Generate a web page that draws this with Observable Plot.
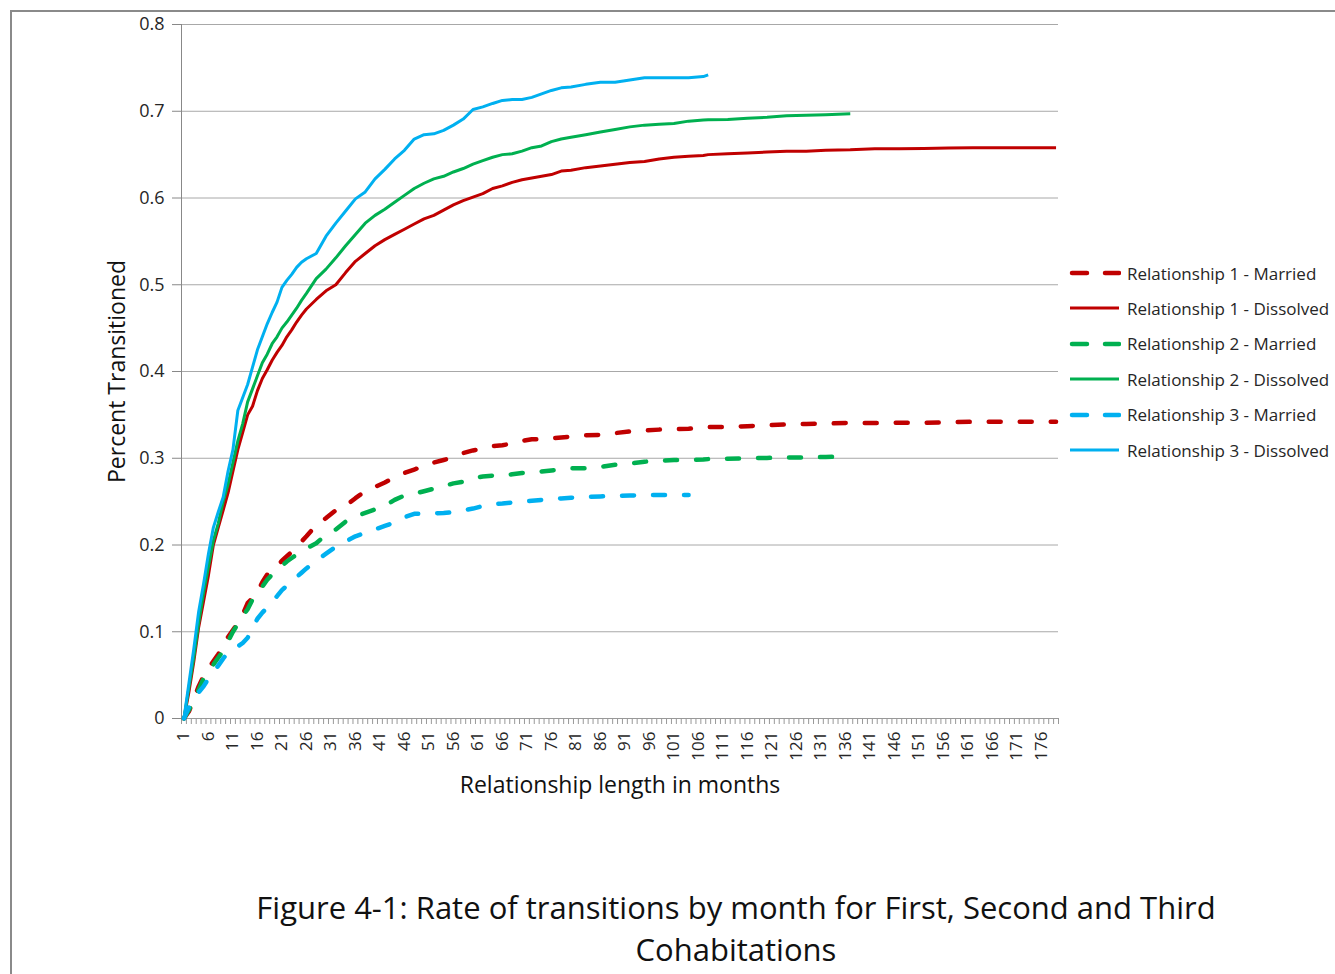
<!DOCTYPE html>
<html>
<head>
<meta charset="utf-8">
<script src="https://cdn.jsdelivr.net/npm/d3@7"></script>
<script src="https://cdn.jsdelivr.net/npm/@observablehq/plot@0.6"></script>
<style>
  body { margin: 0; background: #fff; font-family: "Open Sans", sans-serif; }
  #wrap { position: relative; width: 1335px; height: 974px; overflow: hidden; background: #fff; }
  #frame { position: absolute; left: 10px; top: 10px; width: 1400px; height: 1000px;
           border-top: 2px solid #8a8a8a; border-left: 2px solid #8a8a8a; }
  #chart { position: absolute; left: 0; top: 0; }
  #legend { position: absolute; left: 1068px; top: 0; }
  .item { position: absolute; left: 0; height: 24px; display: flex; align-items: center;
          white-space: nowrap; font-size: 17px; color: #262626; }
  .item svg { margin-right: 6px; }
  #caption { position: absolute; top: 886px; left: 136px; width: 1200px; text-align: center;
             font-family: "Liberation Sans Narrow", "Open Sans", sans-serif; font-size: 31px;
             line-height: 42px; color: #111; }
</style>
</head>
<body>
<div id="wrap">
  <div id="frame"></div>
  <div id="chart"></div>
  <div id="legend"></div>
  <div id="caption"></div>
</div>
<script>
// ---- data ----
const months = [1,2,3,4,5,6,7,8,9,10,11,12,13,14,15,16,17,18,19,20,21,22,23,24,25,26,
  28,30,32,34,36,38,40,42,44,46,48,50,52,54,56,58,60,62,64,66,68,70,72,74,76,78,80,
  83,86,89,92,95,98,101,104,107,108,112,116,120,124,128,132,137,142,147,152,157,162,167,172,179];

const r1Married = [0,0.008,0.022,0.037,0.049,0.058,0.066,0.074,0.083,0.094,0.102,0.11,0.12,0.133,0.139,0.146,0.157,0.166,0.171,0.175,0.182,0.187,0.192,0.197,0.204,0.21,
  0.223,0.231,0.24,0.245,0.254,0.262,0.267,0.272,0.278,0.283,0.287,0.291,0.295,0.298,0.301,0.306,0.309,0.311,0.314,0.315,0.317,0.32,0.322,0.322,0.323,0.324,0.325,
  0.3265,0.327,0.329,0.331,0.332,0.333,0.3335,0.334,0.3355,0.336,0.336,0.337,0.338,0.339,0.3395,0.340,0.3407,0.3407,0.341,0.341,0.3415,0.342,0.342,0.342,0.342];

const r1Dissolved = [0,0.03,0.065,0.105,0.135,0.165,0.2,0.22,0.24,0.26,0.285,0.31,0.33,0.35,0.36,0.378,0.392,0.402,0.413,0.422,0.43,0.44,0.448,0.457,0.465,0.472,
  0.483,0.493,0.5,0.514,0.527,0.536,0.545,0.552,0.558,0.564,0.57,0.576,0.58,0.586,0.592,0.597,0.601,0.605,0.611,0.614,0.618,0.621,0.623,0.625,0.627,0.631,0.632,
  0.635,0.637,0.639,0.641,0.642,0.645,0.647,0.648,0.649,0.65,0.651,0.652,0.653,0.654,0.654,0.655,0.6555,0.6567,0.6567,0.657,0.6575,0.658,0.658,0.658,0.658];

const r2Married = [0,0.01,0.02,0.033,0.046,0.054,0.062,0.07,0.078,0.089,0.1,0.109,0.118,0.126,0.137,0.144,0.152,0.16,0.166,0.171,0.176,0.181,0.185,0.189,0.193,0.196,
  0.202,0.212,0.218,0.227,0.233,0.237,0.241,0.245,0.252,0.257,0.259,0.262,0.265,0.268,0.271,0.273,0.277,0.279,0.28,0.28,0.2815,0.283,0.284,0.2847,0.286,0.287,0.2885,
  0.2885,0.29,0.2925,0.294,0.296,0.297,0.298,0.298,0.2985,0.299,0.2995,0.3,0.3004,0.3008,0.301,0.3015,0.302,
  null,null,null,null,null,null,null,null];

const r2Dissolved = [0,0.035,0.07,0.11,0.145,0.175,0.205,0.225,0.25,0.27,0.295,0.32,0.34,0.365,0.38,0.395,0.41,0.42,0.432,0.44,0.45,0.457,0.465,0.473,0.482,0.49,
  0.507,0.518,0.531,0.545,0.558,0.571,0.58,0.587,0.595,0.603,0.611,0.617,0.622,0.625,0.63,0.634,0.639,0.643,0.647,0.65,0.651,0.654,0.658,0.66,0.665,0.668,0.67,
  0.673,0.676,0.679,0.682,0.684,0.685,0.686,0.6886,0.69,0.6902,0.6905,0.692,0.693,0.6947,0.6955,0.696,0.697,
  null,null,null,null,null,null,null,null];

const r3Married = [0,0.013,0.022,0.03,0.037,0.046,0.053,0.061,0.069,0.076,0.08,0.083,0.087,0.093,0.104,0.115,0.122,0.128,0.135,0.141,0.148,0.153,0.158,0.163,0.168,0.173,
  0.182,0.19,0.198,0.204,0.21,0.214,0.218,0.222,0.226,0.232,0.236,0.236,0.2365,0.237,0.2378,0.24,0.242,0.245,0.247,0.2478,0.249,0.2498,0.251,0.252,0.253,0.2537,0.2545,
  0.2552,0.256,0.2566,0.257,0.2575,0.2575,0.2575,0.2575,null,null,
  null,null,null,null,null,null,null,null,null,null,null,null,null,null,null];

const r3Dissolved = [0,0.04,0.08,0.123,0.155,0.19,0.22,0.238,0.255,0.285,0.31,0.355,0.37,0.385,0.405,0.425,0.44,0.455,0.468,0.48,0.497,0.505,0.512,0.52,0.526,0.53,
  0.536,0.556,0.571,0.585,0.599,0.607,0.622,0.633,0.645,0.655,0.668,0.673,0.674,0.678,0.684,0.691,0.702,0.705,0.709,0.7125,0.7135,0.7135,0.716,0.72,0.724,0.727,0.728,
  0.731,0.7335,0.7335,0.736,0.7386,0.7386,0.7386,0.7386,0.74,0.742,
  null,null,null,null,null,null,null,null,null,null,null,null,null,null,null];

const seriesNames = ["Relationship 1 - Married","Relationship 1 - Dissolved","Relationship 2 - Married",
                     "Relationship 2 - Dissolved","Relationship 3 - Married","Relationship 3 - Dissolved"];
const seriesValues = [r1Married, r1Dissolved, r2Married, r2Dissolved, r3Married, r3Dissolved];
const seriesColors = ["#C00000","#C00000","#00B050","#00B050","#00B0F0","#00B0F0"];
const seriesDashed = [true,false,true,false,true,false];

const yTicks = [0,0.1,0.2,0.3,0.4,0.5,0.6,0.7,0.8];
const xLabelMonths = d3.range(1, 177, 5);          // 1, 6, 11, ... 176
const monthCount = 179;
const xTitle = "Relationship length in months";
const yTitle = "Percent Transitioned";
const captionLines = ["Figure 4-1: Rate of transitions by month for First, Second and Third", "Cohabitations"];

// ---- build tables ----
const tables = seriesValues.map((vals, i) =>
  months.map((m, j) => ({month: m, value: vals[j], series: seriesNames[i]})).filter(d => d.value != null));

const boundaries = d3.range(0.5, monthCount + 1, 1);

const lineMarks = tables.map((t, i) => Plot.line(t, {
  x: "month", y: "value",
  stroke: seriesColors[i],
  strokeWidth: seriesDashed[i] ? 4.5 : 3,
  strokeDasharray: seriesDashed[i] ? "12,19" : null,
  strokeLinecap: seriesDashed[i] ? "round" : "butt",
  strokeLinejoin: "round"
}));

const chart = Plot.plot({
  width: 1335,
  height: 800,
  marginLeft: 181,
  marginRight: 277,
  marginTop: 24,
  marginBottom: 82,
  x: {domain: [0.5, monthCount + 0.5]},
  y: {domain: [0, 0.8]},
  style: {fontFamily: "'Open Sans', sans-serif", color: "#262626", background: "transparent"},
  marks: [
    Plot.gridY(yTicks.filter(d => d > 0), {stroke: "#a8a8a8", strokeOpacity: 1, strokeWidth: 1}),
    Plot.axisY(yTicks, {tickSize: 9, tickPadding: 8, fontSize: 18, stroke: "#888",
      tickFormat: d => d === 0 ? "0" : d.toFixed(1), label: null}),
    Plot.axisX(boundaries, {tickSize: 6, tickFormat: () => "", stroke: "#999", label: null}),
    Plot.axisX(xLabelMonths, {tickSize: 0, tickPadding: 13, tickRotate: -90, fontSize: 17, label: null}),
    Plot.ruleX([0.5], {stroke: "#888"}),
    Plot.ruleY([0], {stroke: "#999"}),
    ...lineMarks,
    Plot.text([yTitle], {frameAnchor: "left", dx: -64, rotate: -90, textAnchor: "middle", fontSize: 23, fill: "#111"}),
    Plot.text([xTitle], {frameAnchor: "bottom", dy: 74, textAnchor: "middle", fontSize: 23, fill: "#111"})
  ]
});
document.getElementById("chart").appendChild(chart);

// ---- legend ----
const legend = document.getElementById("legend");
const legendTop = 273, legendStep = 35.4;
seriesNames.forEach((name, i) => {
  const item = document.createElement("div");
  item.className = "item";
  item.style.top = (legendTop + i * legendStep - 12) + "px";
  const ns = "http://www.w3.org/2000/svg";
  const svg = document.createElementNS(ns, "svg");
  svg.setAttribute("width", 53); svg.setAttribute("height", 24);
  const ln = document.createElementNS(ns, "line");
  ln.setAttribute("x1", seriesDashed[i] ? 4 : 2); ln.setAttribute("x2", 51);
  ln.setAttribute("y1", 12); ln.setAttribute("y2", 12);
  ln.setAttribute("stroke", seriesColors[i]);
  ln.setAttribute("stroke-width", seriesDashed[i] ? 4.5 : 3);
  if (seriesDashed[i]) { ln.setAttribute("stroke-dasharray", "15,18"); ln.setAttribute("stroke-linecap", "round"); }
  svg.appendChild(ln);
  item.appendChild(svg);
  const span = document.createElement("span");
  span.textContent = name;
  item.appendChild(span);
  legend.appendChild(item);
});

// ---- caption ----
const cap = document.getElementById("caption");
captionLines.forEach(l => { const d = document.createElement("div"); d.textContent = l; cap.appendChild(d); });
</script>
</body>
</html>
